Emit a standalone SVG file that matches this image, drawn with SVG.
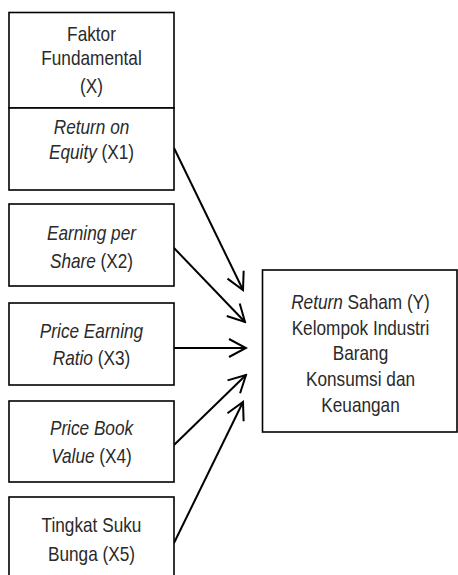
<svg xmlns="http://www.w3.org/2000/svg" width="458" height="575" viewBox="0 0 458 575">
<style>
.box{fill:#fff;stroke:#000;stroke-width:1.6}
.t{font-family:"Liberation Sans",Arial,sans-serif;font-size:21px;fill:#2a2a2a;text-anchor:middle}
.i{font-style:italic}
.c{fill:none;stroke:#000;stroke-width:2}
</style>
<defs>
<marker id="ah" markerUnits="userSpaceOnUse" viewBox="-20 -12 22 24" refX="0" refY="0" markerWidth="22" markerHeight="24" orient="auto">
<path d="M-17,-9 L0,0 L-17,9" fill="none" stroke="#000" stroke-width="2"/>
</marker>
</defs>
<rect width="458" height="575" fill="#fff"/>
<g id="connectors">
<line class="c" x1="174" y1="148" x2="243" y2="290" marker-end="url(#ah)"/>
<line class="c" x1="174" y1="248" x2="245" y2="322" marker-end="url(#ah)"/>
<line class="c" x1="174" y1="348" x2="246" y2="348" marker-end="url(#ah)"/>
<line class="c" x1="174" y1="445" x2="246" y2="375" marker-end="url(#ah)"/>
<line class="c" x1="174" y1="543" x2="243" y2="402" marker-end="url(#ah)"/>
</g>
<g id="faktor">
<rect class="box" x="9" y="12.5" width="165" height="95.5"/>
<g transform="matrix(0.82 0 0 1 91.5 0)">
<text class="t" x="0" y="41.5">Faktor</text>
<text class="t" x="0" y="65.5">Fundamental</text>
<text class="t" x="0" y="93">(X)</text>
</g>
</g>
<g id="x1">
<rect class="box" x="9" y="108" width="165" height="82"/>
<g transform="matrix(0.82 0 0 1 91.5 0)">
<text class="t" x="0" y="134"><tspan class="i">Return on</tspan></text>
<text class="t" x="0" y="159"><tspan class="i">Equity</tspan> (X1)</text>
</g>
</g>
<g id="x2">
<rect class="box" x="9" y="204" width="165" height="82"/>
<g transform="matrix(0.82 0 0 1 91.5 0)">
<text class="t" x="0" y="240"><tspan class="i">Earning per</tspan></text>
<text class="t" x="0" y="268"><tspan class="i">Share</tspan> (X2)</text>
</g>
</g>
<g id="x3">
<rect class="box" x="9" y="303" width="165" height="82"/>
<g transform="matrix(0.82 0 0 1 91.5 0)">
<text class="t" x="0" y="338"><tspan class="i">Price Earning</tspan></text>
<text class="t" x="0" y="365"><tspan class="i">Ratio</tspan> (X3)</text>
</g>
</g>
<g id="x4">
<rect class="box" x="9" y="401" width="165" height="81"/>
<g transform="matrix(0.82 0 0 1 91.5 0)">
<text class="t" x="0" y="435"><tspan class="i">Price Book</tspan></text>
<text class="t" x="0" y="463"><tspan class="i">Value</tspan> (X4)</text>
</g>
</g>
<g id="x5">
<rect class="box" x="9" y="497" width="165" height="90"/>
<g transform="matrix(0.82 0 0 1 91.5 0)">
<text class="t" x="0" y="532">Tingkat Suku</text>
<text class="t" x="0" y="561">Bunga (X5)</text>
</g>
</g>
<g id="y">
<rect class="box" x="262.5" y="270" width="194.5" height="162"/>
<g transform="matrix(0.82 0 0 1 360.5 0)">
<text class="t" x="0" y="309"><tspan class="i">Return</tspan> Saham (Y)</text>
<text class="t" x="0" y="335">Kelompok Industri</text>
<text class="t" x="0" y="360">Barang</text>
<text class="t" x="0" y="386">Konsumsi dan</text>
<text class="t" x="0" y="412">Keuangan</text>
</g>
</g>
</svg>
